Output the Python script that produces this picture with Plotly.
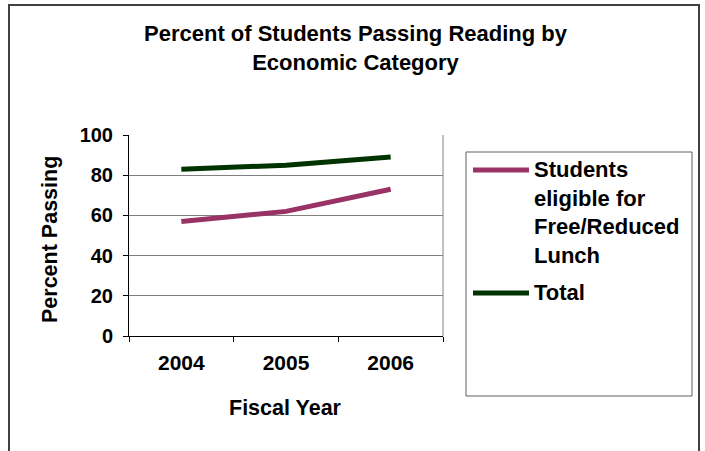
import plotly.graph_objects as go

# Data
years = ["2004", "2005", "2006"]
series_names = ["Students<br>eligible for<br>Free/Reduced<br>Lunch", "Total"]
free_reduced = [57, 62, 73]
total = [83, 85, 89]
series_values = [free_reduced, total]
series_colors = ["#993366", "#003300"]
y_ticks = [0, 20, 40, 60, 80, 100]

W, H = 705, 451
ML, MR, MT, MB = 129, 262, 135, 115
FONT = "Liberation Sans, Arial, sans-serif"


def px_x(x):
    """Pixel column -> paper x fraction."""
    return (x - ML) / (W - ML - MR)


def px_y(y):
    """Pixel row -> paper y fraction."""
    return (H - MB - y) / (H - MT - MB)


fig = go.Figure()
for name, vals, col in zip(series_names, series_values, series_colors):
    fig.add_trace(go.Scatter(
        x=years, y=vals, mode="lines", name=name.replace("<br>", " "),
        line=dict(color=col, width=5), showlegend=False,
    ))

shapes = [
    # outer chart frame
    dict(type="rect", xref="paper", yref="paper",
         x0=px_x(9), x1=px_x(699), y0=px_y(470), y1=px_y(5),
         line=dict(color="#404040", width=2), layer="below"),
    # plot area right edge
    dict(type="line", xref="paper", yref="paper",
         x0=1, x1=1, y0=0, y1=1, line=dict(color="#808080", width=1)),
    # legend box
    dict(type="rect", xref="paper", yref="paper",
         x0=px_x(466), x1=px_x(692), y0=px_y(396), y1=px_y(152),
         line=dict(color="#606060", width=1)),
]

annotations = [
    dict(text="Percent of Students Passing Reading by<br>Economic Category",
         xref="paper", yref="paper", x=px_x(356), y=px_y(48),
         xanchor="center", yanchor="middle", showarrow=False,
         font=dict(family=FONT, size=22, color="black", weight="bold")),
    dict(text="Percent Passing", xref="paper", yref="paper",
         x=px_x(50), y=px_y(240), textangle=-90,
         xanchor="center", yanchor="middle", showarrow=False,
         font=dict(family=FONT, size=21.5, color="black", weight="bold")),
    dict(text="Fiscal Year", xref="paper", yref="paper",
         x=px_x(285), y=px_y(408),
         xanchor="center", yanchor="middle", showarrow=False,
         font=dict(family=FONT, size=21.5, color="black", weight="bold")),
]

# Legend entries
legend_rows = [170, 293]
for name, col, row in zip(series_names, series_colors, legend_rows):
    shapes.append(dict(type="line", xref="paper", yref="paper",
                       x0=px_x(473), x1=px_x(529), y0=px_y(row), y1=px_y(row),
                       line=dict(color=col, width=5)))
    annotations.append(dict(text=name, xref="paper", yref="paper",
                            x=px_x(532), y=px_y(row - 15),
                            xanchor="left", yanchor="top", align="left",
                            showarrow=False,
                            font=dict(family=FONT, size=22, color="black",
                                      weight="bold")))

fig.update_layout(
    width=W, height=H,
    margin=dict(l=ML, r=MR, t=MT, b=MB),
    paper_bgcolor="white", plot_bgcolor="white",
    shapes=shapes, annotations=annotations,
    showlegend=False,
)
fig.update_xaxes(
    type="category", range=[-0.5, 2.5], tickson="boundaries",
    ticks="outside", ticklen=5, tickcolor="black",
    showline=True, linecolor="black", linewidth=1,
    showgrid=False, zeroline=False, ticklabelstandoff=8,
    tickfont=dict(family=FONT, size=21, color="black", weight="bold"),
)
fig.update_yaxes(
    range=[0, 100], tickvals=y_ticks,
    ticks="outside", ticklen=5, tickcolor="black",
    showline=True, linecolor="black", linewidth=1,
    showgrid=True, gridcolor="#808080", gridwidth=1, zeroline=False,
    ticklabelstandoff=6,
    tickfont=dict(family=FONT, size=20, color="black", weight="bold"),
)

fig.write_html("out.html")
